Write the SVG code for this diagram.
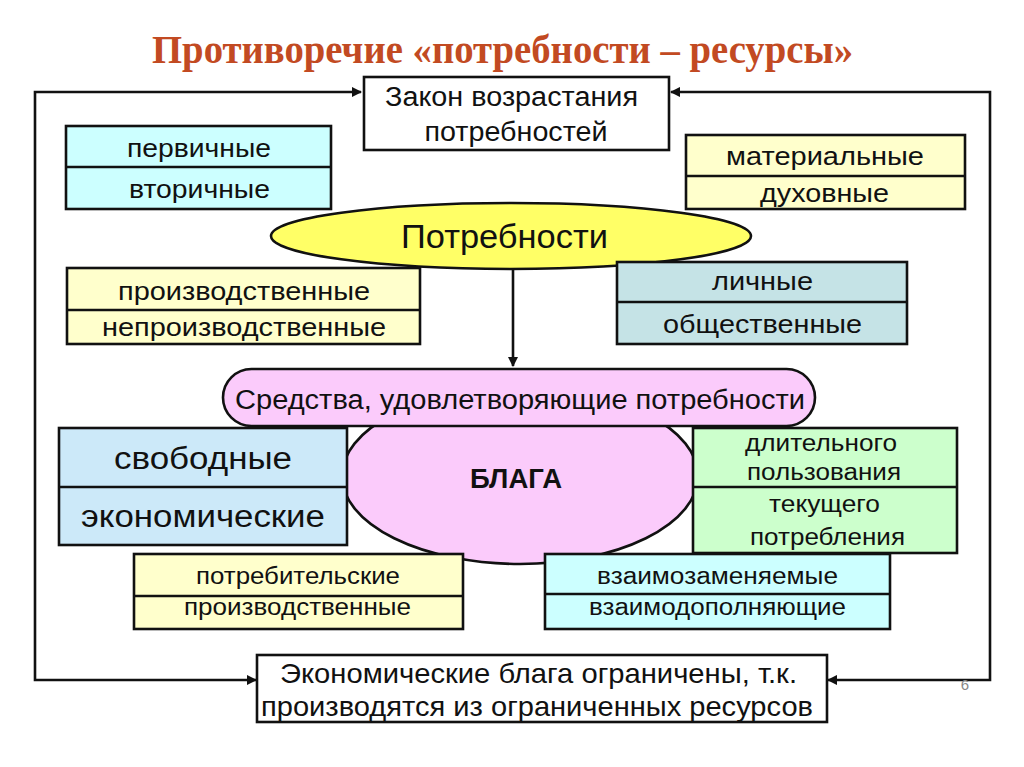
<svg xmlns="http://www.w3.org/2000/svg" width="1024" height="767" viewBox="0 0 1024 767">
<style>
.box{stroke:#111;stroke-width:2.6}
.t{font-family:"Liberation Sans",Arial,sans-serif;fill:#111;text-anchor:middle}
.ln{fill:none;stroke:#111;stroke-width:2.6}
.cy{fill:#CCFFFF}.yl{fill:#FFFFCC}.tl{fill:#C5E3E6}.bl{fill:#CCE9F9}.gr{fill:#CCFFCC}.pk{fill:#FBCBFB}
</style>
<defs>
<marker id="ah" viewBox="0 0 10 10" refX="9" refY="5" markerWidth="4" markerHeight="4" orient="auto-start-reverse" markerUnits="strokeWidth">
<path d="M0,0 L10,5 L0,10 z" fill="#111"/>
</marker>
</defs>
<rect width="1024" height="767" fill="#ffffff"/>
<text x="502.5" y="63" textLength="701" lengthAdjust="spacingAndGlyphs" style="font-family:'Liberation Serif','Times New Roman',serif;font-weight:bold;font-size:39px;fill:#C24A22;text-anchor:middle">Противоречие «потребности – ресурсы»</text>

<g id="connectors">
<path class="ln" d="M256,680 H35 V92 H361" marker-start="url(#ah)" marker-end="url(#ah)"/>
<path class="ln" d="M828,680 H990 V92 H671" marker-start="url(#ah)" marker-end="url(#ah)"/>
<path class="ln" d="M513,270 V366" marker-end="url(#ah)"/>
</g>

<g id="law">
<rect class="box" x="364" y="77" width="305" height="73" fill="#fff"/>
<text class="t" x="511.5" y="106" font-size="27" textLength="253" lengthAdjust="spacingAndGlyphs">Закон возрастания</text>
<text class="t" x="516" y="141" font-size="27" textLength="183" lengthAdjust="spacingAndGlyphs">потребностей</text>
</g>

<g id="primary">
<rect class="box cy" x="66" y="126" width="265" height="83"/>
<line class="box" x1="66" y1="167" x2="331" y2="167"/>
<text class="t" x="199" y="157" font-size="26" textLength="144" lengthAdjust="spacingAndGlyphs">первичные</text>
<text class="t" x="199.5" y="198" font-size="26" textLength="141" lengthAdjust="spacingAndGlyphs">вторичные</text>
</g>

<g id="material">
<rect class="box yl" x="686" y="135" width="279" height="74"/>
<line class="box" x1="686" y1="176" x2="965" y2="176"/>
<text class="t" x="825" y="165" font-size="26" textLength="198" lengthAdjust="spacingAndGlyphs">материальные</text>
<text class="t" x="824.5" y="202" font-size="26" textLength="129" lengthAdjust="spacingAndGlyphs">духовные</text>
</g>

<g id="needs">
<ellipse class="box" cx="511" cy="236" rx="240" ry="33" fill="#FFFF66"/>
<text class="t" x="504.5" y="248" font-size="34" textLength="207" lengthAdjust="spacingAndGlyphs">Потребности</text>
</g>

<g id="production">
<rect class="box yl" x="67" y="268" width="353" height="76"/>
<line class="box" x1="67" y1="310" x2="420" y2="310"/>
<text class="t" x="244" y="300" font-size="26" textLength="252" lengthAdjust="spacingAndGlyphs">производственные</text>
<text class="t" x="244" y="336" font-size="26" textLength="284" lengthAdjust="spacingAndGlyphs">непроизводственные</text>
</g>

<g id="personal">
<rect class="box tl" x="617" y="262" width="290" height="82"/>
<line class="box" x1="617" y1="302" x2="907" y2="302"/>
<text class="t" x="762.5" y="290" font-size="26" textLength="101" lengthAdjust="spacingAndGlyphs">личные</text>
<text class="t" x="762.5" y="333" font-size="26" textLength="199" lengthAdjust="spacingAndGlyphs">общественные</text>
</g>

<g id="goods">
<ellipse class="box pk" cx="520" cy="476" rx="178" ry="88"/>
<text class="t" x="516" y="488" font-size="27" font-weight="bold" textLength="92" lengthAdjust="spacingAndGlyphs">БЛАГА</text>
</g>

<g id="means">
<rect class="box pk" x="223" y="369" width="592" height="57" rx="28.5" ry="28.5"/>
<text class="t" x="520" y="409" font-size="27" textLength="570" lengthAdjust="spacingAndGlyphs">Средства, удовлетворяющие потребности</text>
</g>

<g id="free">
<rect class="box bl" x="59" y="428" width="288" height="117"/>
<line class="box" x1="59" y1="487" x2="347" y2="487"/>
<text class="t" x="203" y="469" font-size="31" textLength="178" lengthAdjust="spacingAndGlyphs">свободные</text>
<text class="t" x="203" y="527" font-size="31" textLength="244" lengthAdjust="spacingAndGlyphs">экономические</text>
</g>

<g id="durable">
<rect class="box gr" x="693" y="428" width="264" height="125"/>
<line class="box" x1="693" y1="487" x2="957" y2="487"/>
<text class="t" x="821" y="451" font-size="23" textLength="152" lengthAdjust="spacingAndGlyphs">длительного</text>
<text class="t" x="824" y="480" font-size="23" textLength="154" lengthAdjust="spacingAndGlyphs">пользования</text>
<text class="t" x="824.5" y="512" font-size="23" textLength="111" lengthAdjust="spacingAndGlyphs">текущего</text>
<text class="t" x="827.5" y="545" font-size="23" textLength="155" lengthAdjust="spacingAndGlyphs">потребления</text>
</g>

<g id="consumer">
<rect class="box yl" x="134" y="554" width="329" height="75"/>
<line class="box" x1="134" y1="596" x2="463" y2="596"/>
<text class="t" x="298" y="584" font-size="23" textLength="204" lengthAdjust="spacingAndGlyphs">потребительские</text>
<text class="t" x="297.5" y="615" font-size="23" textLength="227" lengthAdjust="spacingAndGlyphs">производственные</text>
</g>

<g id="substitute">
<rect class="box cy" x="545" y="554" width="345" height="75"/>
<line class="box" x1="545" y1="594" x2="890" y2="594"/>
<text class="t" x="717.5" y="584" font-size="23" textLength="241" lengthAdjust="spacingAndGlyphs">взаимозаменяемые</text>
<text class="t" x="717.5" y="615" font-size="23" textLength="257" lengthAdjust="spacingAndGlyphs">взаимодополняющие</text>
</g>

<g id="limited">
<rect class="box" x="257" y="655" width="570" height="67" fill="#fff"/>
<text class="t" x="538.5" y="683" font-size="28" textLength="517" lengthAdjust="spacingAndGlyphs">Экономические блага ограничены, т.к.</text>
<text class="t" x="537" y="716" font-size="28" textLength="552" lengthAdjust="spacingAndGlyphs">производятся из ограниченных ресурсов</text>
</g>

<text x="965" y="690" style="font-family:'Liberation Sans',Arial,sans-serif;font-size:15px;fill:#888;text-anchor:middle">6</text>
</svg>
